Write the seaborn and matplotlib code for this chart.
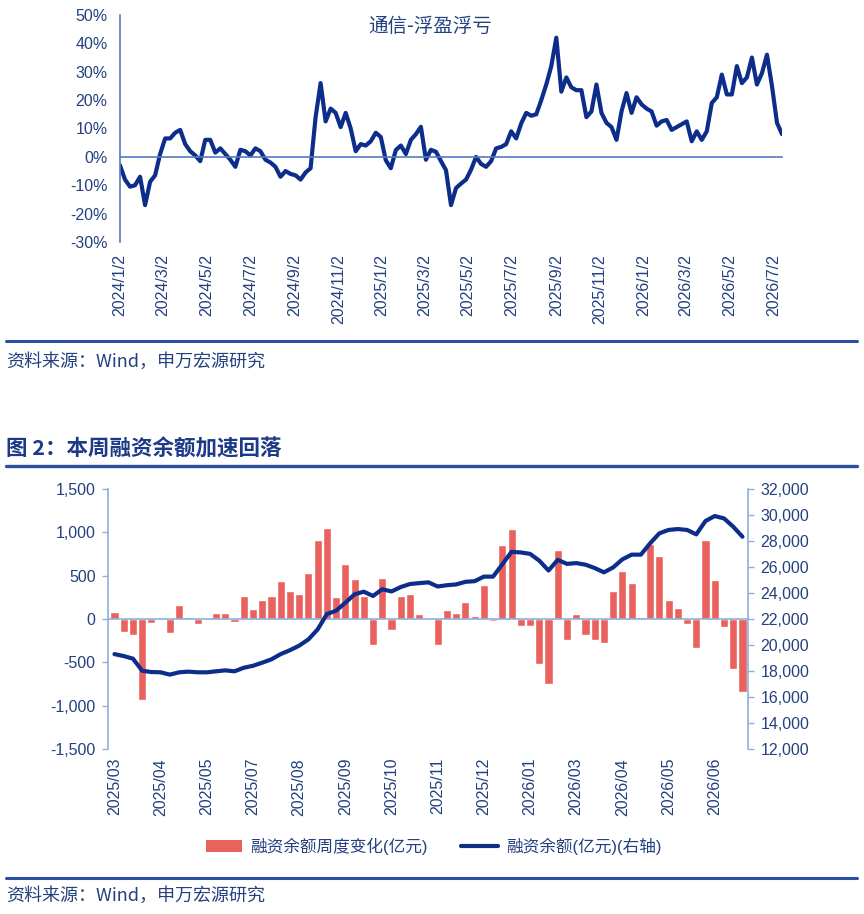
import numpy as np
import pandas as pd
import seaborn as sns
import matplotlib.pyplot as plt
import matplotlib.ticker as mticker
from matplotlib.patches import Patch
from matplotlib.lines import Line2D

# ---- data: 通信 浮盈浮亏 (weekly, %) ----
start_date = "2024-01-02"
pnl = [-3, -8, -10.5, -10, -7, -17, -8.8, -6.5, 1, 6.5,
       6.5, 8.5, 9.5, 4.5, 2, 0.5, -1.5, 6, 6, 1.5,
       3, 1, -1, -3.5, 2.5, 2, 0.5, 3, 2, -1,
       -2, -3.5, -7, -5, -6, -6.5, -8, -5.5, -4, 14,
       26, 12.5, 17, 15.5, 10.5, 15.5, 10, 2, 4.5, 4,
       5.5, 8.5, 7, -1.2, -4, 2.4, 4, 1, 6, 8,
       10.6, -1, 2.5, 1.8, -1.5, -4.7, -17, -11, -9.4, -8,
       -4.5, 0, -2.5, -3.5, -1.5, 3, 3.5, 4.5, 9, 6.5,
       11.8, 15.5, 14.5, 15, 20, 25.5, 32, 42, 23, 28,
       24.5, 23.5, 23.5, 14, 16, 25.5, 15.5, 12, 10.5, 6,
       16, 22.5, 15.5, 21, 18.5, 17, 16, 11, 12.5, 13,
       9.5, 10.5, 11.5, 12.5, 5.5, 9, 6, 9, 19, 21,
       29, 22, 22, 32, 26, 28, 35, 25.5, 29.5, 36,
       25, 12, 8]
date_ticks = ["2024-01-02", "2024-03-02", "2024-05-02", "2024-07-02", "2024-09-02",
              "2024-11-02", "2025-01-02", "2025-03-02", "2025-05-02", "2025-07-02",
              "2025-09-02", "2025-11-02", "2026-01-02", "2026-03-02", "2026-05-02",
              "2026-07-02"]

# ---- data: 融资余额 (weekly) ----
flows = [80, -150, -190, -935, -50, 5, -160, 160, 20, -55,
         -10, 65, 75, -35, 265, 120, 220, 265, 440, 320,
         285, 530, 910, 1050, 255, 635, 460, 265, -300, 470,
         -130, 268, 287, 62, 5, -298, 108, 70, 192, 36,
         390, -25, 855, 1040, -85, -77, -515, -745, 792, -244,
         54, -185, -242, -281, 327, 554, 412, 27, 865, 731,
         219, 123, -54, -331, 911, 454, -92, -581, -846]
balance = [19300, 19150, 18950, 18020, 17920, 17900, 17720, 17900, 17950, 17900,
           17900, 17975, 18050, 17975, 18250, 18400, 18640, 18900, 19300, 19600,
           19950, 20430, 21200, 22380, 22640, 23250, 23900, 24100, 23770, 24290,
           24120, 24460, 24690, 24760, 24820, 24500, 24600, 24660, 24860, 24910,
           25260, 25260, 26210, 27170, 27120, 27010, 26490, 25730, 26550, 26240,
           26300, 26180, 25920, 25590, 25970, 26590, 26950, 26950, 27820, 28590,
           28850, 28920, 28850, 28510, 29540, 29920, 29740, 29100, 28330]
month_labels = ["2025/03", "2025/04", "2025/05", "2025/07", "2025/08", "2025/09", "2025/10",
                "2025/11", "2025/12", "2026/01", "2026/03", "2026/04", "2026/05", "2026/06"]

navy = "#0c2e8a"
red = "#e9625e"
txt = "#23407f"
axis_top = "#5479c4"
axis_bot = "#8eb0dc"
rule = "#2c4f9e"

sns.set_theme(style="white")
plt.rcParams["font.family"] = ["Liberation Sans", "Noto Sans CJK SC", "DejaVu Sans"]

W, H = 864, 914
fig = plt.figure(figsize=(W / 100, H / 100), dpi=100)

# ---------------- top chart ----------------
dates = pd.date_range(start_date, periods=len(pnl), freq="7D")
tick_dates = pd.to_datetime(date_ticks)
tick_labels = [f"{d.year}/{d.month}/{d.day}" for d in tick_dates]

ax1 = fig.add_axes([120 / W, 1 - 242 / H, 662 / W, 227 / H])
sns.lineplot(x=dates, y=pnl, ax=ax1, color=navy, linewidth=3.0)
ax1.set_xlim(dates[0], dates[-1])
ax1.set_ylim(-30, 50)
ax1.set_yticks(range(-30, 51, 10))
ax1.yaxis.set_major_formatter(mticker.FuncFormatter(lambda v, _: f"{v:.0f}%"))
ax1.set_xticks(tick_dates)
ax1.set_xticklabels(tick_labels)
for s in ["top", "right"]:
    ax1.spines[s].set_visible(False)
ax1.spines["bottom"].set_position(("data", 0))
for s in ["left", "bottom"]:
    ax1.spines[s].set_color(axis_top)
    ax1.spines[s].set_linewidth(1.2)
ax1.tick_params(axis="x", length=4, width=1, color=axis_top, direction="out",
                pad=66, labelsize=11.5, labelcolor=txt, labelrotation=90)
ax1.tick_params(axis="y", length=4, width=1, color=axis_top, direction="out",
                pad=5, labelsize=11.5, labelcolor=txt)
ax1.set_xlabel("")
ax1.set_ylabel("")
ax1.text(0.468, 0.95, "通信-浮盈浮亏", transform=ax1.transAxes, ha="center", va="center",
         fontsize=14, color=txt, family=["Noto Sans CJK SC", "DejaVu Sans"])

# ---------------- bottom chart ----------------
x = np.arange(len(flows))
ax2 = fig.add_axes([108 / W, 1 - 749 / H, 640 / W, 260 / H])
sns.barplot(x=x, y=flows, ax=ax2, color=red, saturation=1, width=0.88)
ax3 = ax2.twinx()
sns.lineplot(x=x, y=balance, ax=ax3, color=navy, linewidth=3.0)
ax2.set_xlim(-0.7, 68.6)
ax2.set_ylim(-1500, 1500)
ax2.set_yticks(range(-1500, 1501, 500))
ax3.set_ylim(12000, 32000)
ax3.set_yticks(range(12000, 32001, 2000))
fmt = mticker.FuncFormatter(lambda v, _: f"{v:,.0f}")
ax2.yaxis.set_major_formatter(fmt)
ax3.yaxis.set_major_formatter(fmt)

ax2.set_xticks(range(0, 66, 5))
ax2.set_xticklabels(month_labels)
ax2.set_xticks(np.arange(4.5, 65, 5), minor=True)
for s in ["top", "right"]:
    ax2.spines[s].set_visible(False)
for s in ["top", "left", "bottom"]:
    ax3.spines[s].set_visible(False)
ax2.spines["bottom"].set_position(("data", 0))
for sp in [ax2.spines["left"], ax2.spines["bottom"], ax3.spines["right"]]:
    sp.set_color(axis_bot)
    sp.set_linewidth(1.2)
ax2.tick_params(axis="x", which="major", length=0, pad=100, labelsize=11.5,
                labelcolor=txt, labelrotation=90)
ax2.tick_params(axis="x", which="minor", length=4, width=1, color=axis_bot, direction="out")
ax2.tick_params(axis="y", length=4, width=1, color=axis_bot, direction="out",
                pad=5, labelsize=11.5, labelcolor=txt, left=True)
ax3.tick_params(axis="y", length=4, width=1, color=axis_bot, direction="out",
                pad=5, labelsize=11.5, labelcolor=txt, right=True)
for a in [ax2, ax3]:
    a.set_xlabel("")
    a.set_ylabel("")
    a.grid(False)

handles = [Patch(facecolor=red, edgecolor="none"), Line2D([], [], color=navy, linewidth=3)]
fig.legend(handles, ["融资余额周度变化(亿元)", "融资余额(亿元)(右轴)"], loc="center",
           bbox_to_anchor=(0.502, 1 - 846 / H), ncol=2, frameon=False, fontsize=12,
           handlelength=2.2, handleheight=0.7, columnspacing=2.0, handletextpad=0.5,
           labelcolor=txt)

# ---------------- page decorations ----------------
cjk = ["Noto Sans CJK SC", "DejaVu Sans"]
for yy, lw in [(341, 2.2), (466, 2.4), (878, 2.2)]:
    fig.add_artist(Line2D([6 / W, 857 / W], [1 - yy / H, 1 - yy / H], color=rule,
                          linewidth=lw, transform=fig.transFigure))
fig.text(6 / W, 1 - 362 / H, "资料来源：Wind，申万宏源研究", ha="left", va="center",
         fontsize=13, color=txt, family=cjk)
fig.text(6 / W, 1 - 449 / H, "图 2：本周融资余额加速回落", ha="left", va="center",
         fontsize=15.5, color="#1c3a88", fontweight="bold", family=cjk)
fig.text(6 / W, 1 - 896 / H, "资料来源：Wind，申万宏源研究", ha="left", va="center",
         fontsize=13, color=txt, family=cjk)

fig.savefig("out.png", dpi=100)
